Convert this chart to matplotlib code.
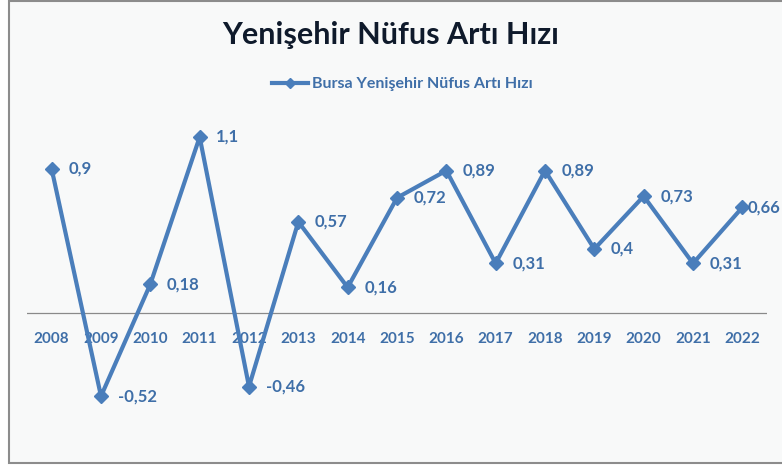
import matplotlib.pyplot as plt
import matplotlib.patches as patches

years = ['2008', '2009', '2010', '2011', '2012', '2013', '2014', '2015',
         '2016', '2017', '2018', '2019', '2020', '2021', '2022']
rates = [0.9, -0.52, 0.18, 1.1, -0.46, 0.57, 0.16, 0.72,
         0.89, 0.31, 0.89, 0.4, 0.73, 0.31, 0.66]
labels = ['0,9', '-0,52', '0,18', '1,1', '-0,46', '0,57', '0,16', '0,72',
          '0,89', '0,31', '0,89', '0,4', '0,73', '0,31', '0,66']

blue = '#4a7ebb'
text_blue = '#3f6fa8'
bg = '#f8f9f9'

plt.rcParams['font.family'] = ['Lato', 'DejaVu Sans']

fig = plt.figure(figsize=(7.82, 4.67), dpi=100)
fig.patch.set_facecolor('white')

# chart area frame (right edge is cut off in the original)
frame = patches.Rectangle((8.5 / 782, 4 / 467), 1.0, 462 / 467,
                          transform=fig.transFigure, facecolor=bg,
                          edgecolor='#8c8c8c', linewidth=1.5, zorder=-10)
fig.patches.append(frame)

ax = fig.add_axes([27 / 782, (467 - 409) / 467, (767 - 27) / 782, (409 - 121) / 467])
ax.set_facecolor('none')
ax.set_zorder(5)

x = list(range(len(years)))
ax.plot(x, rates, color=blue, linewidth=3, marker='D', markersize=7,
        label='Bursa Yenişehir Nüfus Artı Hızı', zorder=3)

for i, (v, lab) in enumerate(zip(rates, labels)):
    dx = 12 if i < len(rates) - 1 else 4
    ax.annotate(lab, (i, v), xytext=(dx, 0), textcoords='offset points',
                ha='left', va='center', fontsize=12, fontweight='bold',
                color=text_blue, zorder=4)

ax.axhline(0, color='#8a8a8a', linewidth=0.9, zorder=1)
ax.set_xlim(-0.5, len(years) - 0.5)
ax.set_ylim(-0.6, 1.2)
ax.set_yticks([])
ax.set_xticks([])
for s in ax.spines.values():
    s.set_visible(False)

# year labels sit just under the zero line
for i, yr in enumerate(years):
    ax.text(i, -0.16, yr, ha='center', va='center', fontsize=11,
            fontweight='bold', color=text_blue, zorder=2)

fig.text(0.5, 1 - 35 / 467, 'Yenişehir Nüfus Artı Hızı', ha='center',
         va='center', fontsize=22, fontweight='bold', color='#0f1a2b')

leg = fig.legend(loc='center', bbox_to_anchor=(0.515, 1 - 84 / 467),
                 frameon=False, fontsize=11.5, handlelength=2.2,
                 markerscale=0.7, handletextpad=0.3)
for t in leg.get_texts():
    t.set_color(text_blue)
    t.set_fontweight('bold')

fig.savefig('out.png', dpi=100, facecolor='white')
